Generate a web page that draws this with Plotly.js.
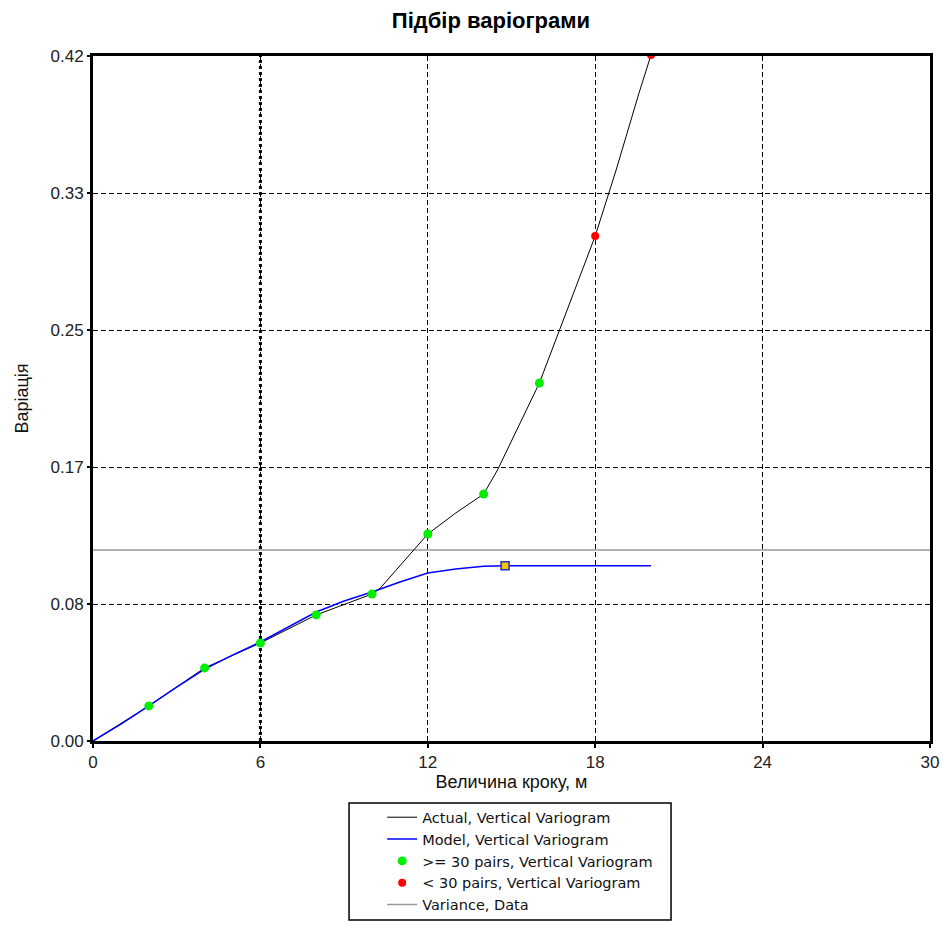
<!DOCTYPE html>
<html>
<head>
<meta charset="utf-8">
<script src="https://cdn.plot.ly/plotly-3.0.1.min.js"></script>
<style>
html,body{margin:0;padding:0;background:#fff;}
#chart{width:942px;height:926px;}
</style>
</head>
<body>
<div id="chart"></div>
<script>
// Lag values (m) and experimental semivariance at each lag
const lagsManyPairs = [2, 4, 6, 8, 10, 12, 14, 16];
const gammaManyPairs = [0.0215, 0.0448, 0.0601, 0.0773, 0.0901, 0.1269, 0.1514, 0.2195];
const lagsFewPairs = [18, 20];
const gammaFewPairs = [0.3096, 0.4206];

// Actual variogram polyline vertices
const actualX = [0, 2, 4, 6, 8, 10, 10.3, 12, 13, 14, 14.5, 16, 18, 18.75, 19.57, 20];
const actualY = [0, 0.0215, 0.0448, 0.0601, 0.0773, 0.0901, 0.0938, 0.1269, 0.1398, 0.1514, 0.1662, 0.2195, 0.3096, 0.3501, 0.3973, 0.4206];

// Model variogram vertices
const modelX = [0, 1, 2, 3, 4, 5, 6, 7, 8, 9, 10, 11, 12, 13, 14, 14.77, 20];
const modelY = [0, 0.0104, 0.0215, 0.0331, 0.0441, 0.0527, 0.0607, 0.0699, 0.0791, 0.0858, 0.0914, 0.0975, 0.1030, 0.1055, 0.1071, 0.1075, 0.1075];

// Model range marker
const rangeX = [14.77];
const rangeY = [0.1075];

// Data variance (sill reference)
const varianceX = [0, 30];
const varianceY = [0.1171, 0.1171];

// Highlighted lag line
const highlightLag = [6];

// Axis ticks
const yTickVals = [0, 0.084, 0.168, 0.252, 0.336, 0.42];
const yTickText = ['0.00', '0.08', '0.17', '0.25', '0.33', '0.42'];
const xTickVals = [0, 6, 12, 18, 24, 30];
const xTickText = ['0', '6', '12', '18', '24', '30'];

const FONT = 'Liberation Sans, Arial, sans-serif';

const traces = [
  {x: varianceX, y: varianceY, mode: 'lines', name: 'Variance, Data',
   line: {color: '#999999', width: 1.5}, legendrank: 5},
  {x: actualX, y: actualY, mode: 'lines', name: 'Actual, Vertical Variogram',
   line: {color: '#000000', width: 1}, legendrank: 1},
  {x: modelX, y: modelY, mode: 'lines', name: 'Model, Vertical Variogram',
   line: {color: '#0000ff', width: 1.5}, legendrank: 2},
  {x: rangeX, y: rangeY, mode: 'markers', showlegend: false,
   marker: {symbol: 'square', size: 8, color: '#f5c400', line: {color: '#2030c0', width: 1.5}}},
  {x: lagsManyPairs, y: gammaManyPairs, mode: 'markers', name: '>= 30 pairs, Vertical Variogram',
   marker: {symbol: 'circle', size: 9, color: '#00ee00'}, legendrank: 3},
  {x: lagsFewPairs, y: gammaFewPairs, mode: 'markers', name: '< 30 pairs, Vertical Variogram',
   marker: {symbol: 'circle', size: 8, color: '#ff0000'}, legendrank: 4}
];

const shapes = highlightLag.map(v => ({
  type: 'line', xref: 'x', yref: 'paper', x0: v, x1: v, y0: 0, y1: 1,
  line: {color: '#000000', width: 3, dash: '3px,3px'}, layer: 'below'
}));
shapes.push({
  type: 'rect', xref: 'paper', yref: 'paper',
  x0: 0.3059, x1: 0.6906, y0: -0.2613, y1: -0.0905,
  line: {color: '#000000', width: 1.5}, fillcolor: 'rgba(0,0,0,0)'
});

const layout = {
  width: 942, height: 926,
  margin: {l: 93, r: 12, t: 56, b: 185, autoexpand: false},
  paper_bgcolor: '#ffffff', plot_bgcolor: '#ffffff',
  font: {family: FONT, size: 14, color: '#222222'},
  title: {text: 'Підбір варіограми', font: {family: FONT, size: 22, color: '#000000', weight: 'bold'},
          xref: 'paper', x: 0.4755, xanchor: 'center', yref: 'container', y: 0.978, yanchor: 'middle'},
  xaxis: {range: [0, 30], tickvals: xTickVals, ticktext: xTickText,
          showline: true, linecolor: '#000000', linewidth: 3, mirror: true,
          ticks: 'outside', ticklen: 4, tickwidth: 2, tickcolor: '#000000',
          showgrid: true, gridcolor: '#000000', gridwidth: 1, griddash: '5px,3px',
          zeroline: false, tickfont: {size: 17, color: '#222222'},
          title: {text: 'Величина кроку, м', font: {size: 18, color: '#111111'}, standoff: 1}},
  yaxis: {range: [0, 0.42], tickvals: yTickVals, ticktext: yTickText,
          showline: true, linecolor: '#000000', linewidth: 3, mirror: true,
          ticks: 'outside', ticklen: 3, tickwidth: 2, tickcolor: '#000000',
          showgrid: true, gridcolor: '#000000', gridwidth: 1, griddash: '5px,3px',
          zeroline: false, tickfont: {size: 17, color: '#222222'},
          title: {text: 'Варіація', font: {size: 18, color: '#111111'}, standoff: 18}},
  showlegend: true,
  legend: {x: 0.3455, y: -0.088, xanchor: 'left', yanchor: 'top', xref: 'paper', yref: 'paper',
           bgcolor: 'rgba(0,0,0,0)', borderwidth: 0, traceorder: 'normal',
           font: {family: 'DejaVu Sans, sans-serif', size: 14.5, color: '#111111'}, tracegroupgap: 0},
  shapes: shapes
};

Plotly.newPlot('chart', traces, layout, {displayModeBar: false, staticPlot: true});
</script>
</body>
</html>
